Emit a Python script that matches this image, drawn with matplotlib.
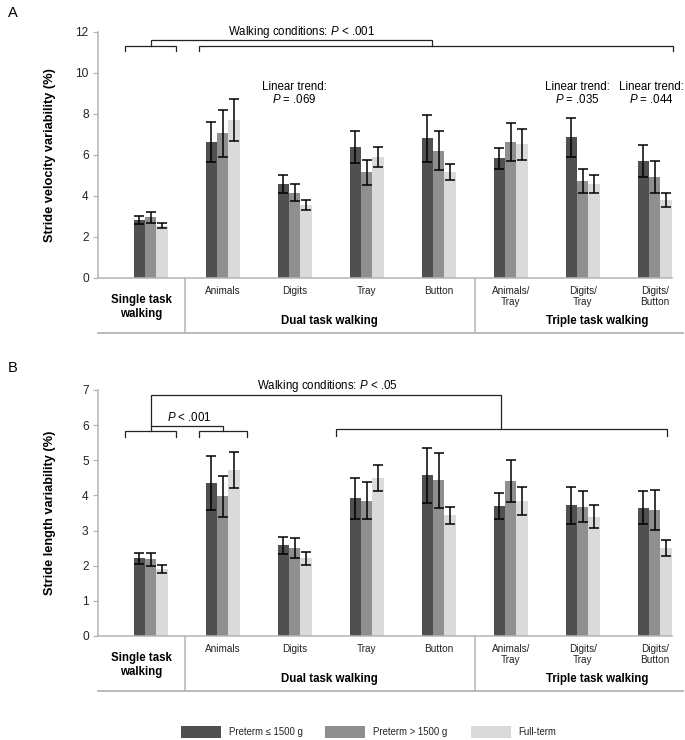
import matplotlib
matplotlib.use('Agg')
import matplotlib.pyplot as plt
from matplotlib.patches import Rectangle
import matplotlib.transforms as mtransforms
import numpy as np

plt.rcParams['font.family'] = ['Liberation Sans', 'DejaVu Sans']
plt.rcParams['mathtext.fontset'] = 'custom'
plt.rcParams['mathtext.it'] = 'Liberation Sans:italic'
plt.rcParams['mathtext.rm'] = 'Liberation Sans'

# ---------------- data ----------------
tick_labels = ['', 'Animals', 'Digits', 'Tray', 'Button',
               'Animals/\nTray', 'Digits/\nTray', 'Digits/\nButton']
group_labels = ['Single task\nwalking', 'Dual task walking', 'Triple task walking']
series_names = ['Preterm \u2264 1500 g', 'Preterm > 1500 g', 'Full-term']
colors = ['#505050', '#8f8f8f', '#dadada']

velocity_pt_low = [2.81, 6.63, 4.58, 6.39, 6.80, 5.82, 6.85, 5.68]
velocity_pt_high = [2.95, 7.04, 4.15, 5.14, 6.20, 6.63, 4.70, 4.93]
velocity_ft = [2.53, 7.70, 3.55, 5.88, 5.15, 6.50, 4.58, 3.79]
velocity_pt_low_err = [0.19, 0.98, 0.43, 0.78, 1.15, 0.53, 0.96, 0.78]
velocity_pt_high_err = [0.26, 1.15, 0.43, 0.62, 0.95, 0.93, 0.58, 0.78]
velocity_ft_err = [0.12, 1.03, 0.24, 0.50, 0.40, 0.75, 0.45, 0.34]

length_pt_low = [2.21, 4.35, 2.58, 3.92, 4.57, 3.70, 3.72, 3.65]
length_pt_high = [2.18, 3.97, 2.50, 3.85, 4.43, 4.42, 3.68, 3.58]
length_ft = [1.91, 4.72, 2.21, 4.50, 3.43, 3.83, 3.40, 2.51]
length_pt_low_err = [0.16, 0.76, 0.25, 0.58, 0.79, 0.37, 0.52, 0.47]
length_pt_high_err = [0.18, 0.57, 0.29, 0.53, 0.79, 0.60, 0.44, 0.57]
length_ft_err = [0.11, 0.51, 0.18, 0.38, 0.25, 0.40, 0.33, 0.23]

panels = [
    dict(letter='A', ylabel='Stride velocity variability (%)', ymax=12, ystep=2,
         means=[velocity_pt_low, velocity_pt_high, velocity_ft],
         errs=[velocity_pt_low_err, velocity_pt_high_err, velocity_ft_err]),
    dict(letter='B', ylabel='Stride length variability (%)', ymax=7, ystep=1,
         means=[length_pt_low, length_pt_high, length_ft],
         errs=[length_pt_low_err, length_pt_high_err, length_ft_err]),
]

# ---------------- figure ----------------
W, H = 685, 740
fig = plt.figure(figsize=(W / 100, H / 100), dpi=100)

ax_left, ax_w, ax_h = 97.7, 574.0, 246.0
ax_bottoms = [277.7, 636.0]

XL = (-0.736, 7.236)
bw = 0.157
sep_x = [0.47, 4.5]
line_end = 7.39
grid_gray = '#b4b4b4'

axes = []
for p, yb in zip(panels, ax_bottoms):
    ax = fig.add_axes([ax_left / W, 1 - yb / H, ax_w / W, ax_h / H])
    axes.append(ax)
    x = np.arange(len(tick_labels))
    for k in range(3):
        xs = x + (k - 1) * bw
        ax.bar(xs, p['means'][k], width=bw, color=colors[k], edgecolor='none', zorder=2)
        ax.errorbar(xs, p['means'][k], yerr=p['errs'][k], fmt='none', ecolor='black',
                    elinewidth=1.1, capsize=3.8, capthick=1.1, zorder=3)
    ax.set_xlim(*XL)
    ax.set_ylim(0, p['ymax'])
    ax.set_yticks(np.arange(0, p['ymax'] + 0.1, p['ystep']))
    ax.set_yticklabels([str(int(v)) for v in np.arange(0, p['ymax'] + 0.1, p['ystep'])])
    ax.tick_params(axis='y', length=3.5, width=0.9, color=grid_gray, labelsize=8.6,
                   labelcolor='#222222', pad=3)
    ax.set_xticks([])
    for s in ['top', 'right']:
        ax.spines[s].set_visible(False)
    for s in ['left', 'bottom']:
        ax.spines[s].set_color(grid_gray)
        ax.spines[s].set_linewidth(1.1)

    trans = mtransforms.blended_transform_factory(ax.transData, ax.transAxes)
    f = lambda px: -px / ax_h
    # category labels
    for i, lab in enumerate(tick_labels):
        if lab:
            ax.text(i, f(8), lab, transform=trans, ha='center', va='top',
                    fontsize=7.2, color='#222222', linespacing=1.15)
    # group labels
    ax.text((XL[0] + sep_x[0]) / 2, f(29), group_labels[0], transform=trans,
            ha='center', va='center', fontsize=8.3, fontweight='bold', linespacing=1.2)
    ax.text((sep_x[0] + sep_x[1]) / 2, f(43), group_labels[1], transform=trans,
            ha='center', va='center', fontsize=8.3, fontweight='bold')
    ax.text(6.2, f(43), group_labels[2], transform=trans,
            ha='center', va='center', fontsize=8.3, fontweight='bold')
    # separators and bottom line
    for sx in sep_x:
        ax.plot([sx, sx], [0, f(55)], transform=trans, color=grid_gray, lw=1.1, clip_on=False)
    ax.plot([XL[0], line_end], [f(55), f(55)], transform=trans, color=grid_gray,
            lw=1.3, clip_on=False)

    # y label and panel letter
    cy = 1 - (yb - ax_h / 2) / H
    fig.text(50 / W, cy, p['ylabel'], rotation=90, ha='center', va='center',
             fontsize=9.2, fontweight='bold')

fig.text(8 / W, 1 - 13 / H, 'A', fontsize=10.5, ha='left', va='center')
fig.text(8 / W, 1 - 368 / H, 'B', fontsize=10.5, ha='left', va='center')

bk = dict(color='#222222', lw=0.9, clip_on=False, solid_joinstyle='miter')

def bracket(ax, x0, x1, y, tick):
    ax.plot([x0, x0, x1, x1], [y - tick, y, y, y - tick], **bk)

def connector(ax, x0, x1, y0a, y0b, ytop):
    ax.plot([x0, x0, x1, x1], [y0a, ytop, ytop, y0b], **bk)

# Panel A annotations
axA = axes[0]
bracket(axA, -0.36, 0.35, 11.3, 0.23)
bracket(axA, 0.67, 7.25, 11.3, 0.23)
connector(axA, 0.0, 3.91, 11.3, 11.3, 11.6)
axA.text(2.1, 12.0, 'Walking conditions: $\\mathit{P}$ < .001', ha='center', va='center',
         fontsize=8.3, clip_on=False)
for xt in [2.0, 5.92, 6.96]:
    pass
lt_x = [2.0, 5.92, 6.96]
lt_p = ['.069', '.035', '.044']
for xt, pv in zip(lt_x, lt_p):
    axA.text(xt, 9.3, 'Linear trend:', ha='center', va='center', fontsize=8.3, clip_on=False)
    axA.text(xt, 8.7, '$\\mathit{P}$ = ' + pv, ha='center', va='center', fontsize=8.3,
             clip_on=False)

# Panel B annotations
axB = axes[1]
bracket(axB, -0.36, 0.35, 5.82, 0.15)
bracket(axB, 0.67, 1.34, 5.82, 0.15)
bracket(axB, 2.57, 7.17, 5.88, 0.2)
connector(axB, 0.0, 1.0, 5.82, 5.82, 5.98)
axB.text(0.53, 6.21, '$\\mathit{P}$ < .001', ha='center', va='center', fontsize=8.3)
connector(axB, 0.0, 4.86, 5.98, 5.88, 6.85)
axB.text(2.45, 7.12, 'Walking conditions: $\\mathit{P}$ < .05', ha='center', va='center',
         fontsize=8.3, clip_on=False)

# Legend
leg_box_x = [180.7, 325.0, 470.5]
for bx, name, c in zip(leg_box_x, series_names, colors):
    fig.patches.append(Rectangle((bx / W, 1 - 738 / H), 40 / W, 12 / H,
                                 transform=fig.transFigure, facecolor=c, edgecolor='none'))
    fig.text((bx + 48) / W, 1 - 732 / H, name, ha='left', va='center', fontsize=6.9,
             color='#222222')

fig.savefig('out.png', dpi=100)
